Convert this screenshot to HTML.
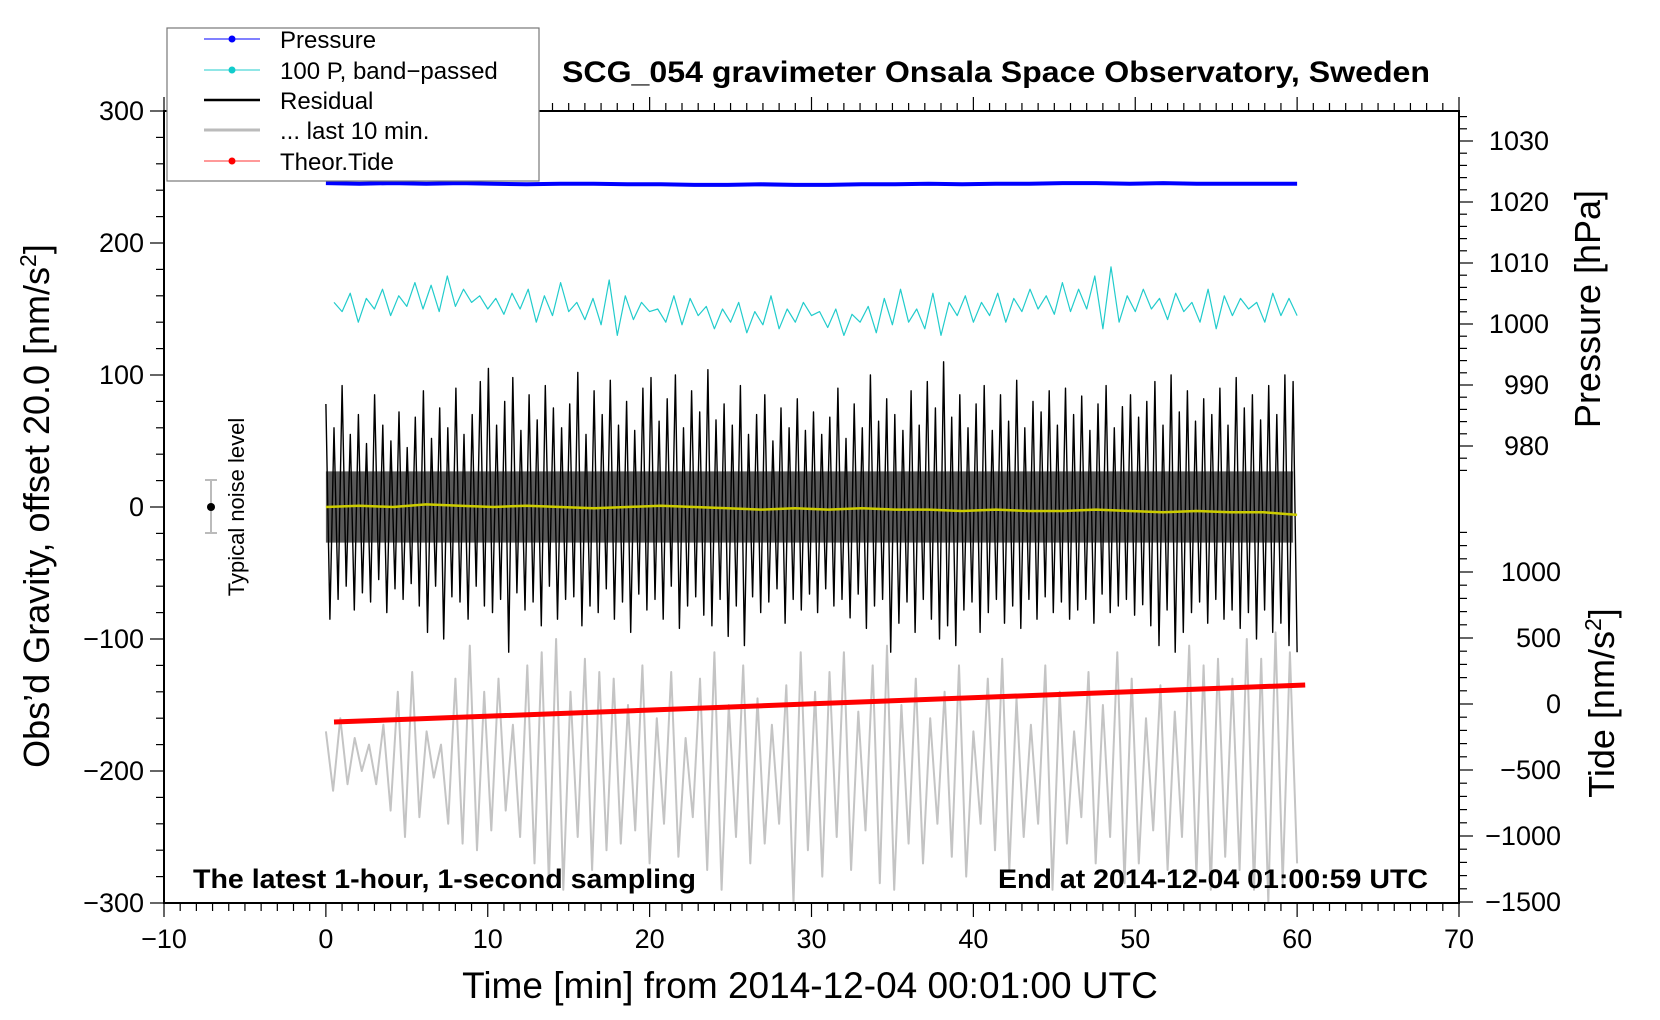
<!DOCTYPE html>
<html><head><meta charset="utf-8"><style>
html,body{margin:0;padding:0;background:#fff;}
svg{display:block;font-family:"Liberation Sans",sans-serif;}
</style></head><body>
<svg id="chart" width="1660" height="1020" viewBox="0 0 1660 1020" xmlns="http://www.w3.org/2000/svg">
<rect width="1660" height="1020" fill="#fff"/>
<g id="marks"></g>
<g id="axes"></g>
<text x="996" y="82" text-anchor="middle" font-size="30" font-weight="bold" textLength="868" lengthAdjust="spacingAndGlyphs">SCG_054 gravimeter Onsala Space Observatory, Sweden</text>
<text x="193" y="888" font-size="27" font-weight="bold" textLength="503" lengthAdjust="spacingAndGlyphs">The latest 1-hour, 1-second sampling</text>
<text x="998" y="888" font-size="27" font-weight="bold" textLength="430" lengthAdjust="spacingAndGlyphs">End at 2014-12-04 01:00:59 UTC</text>
<text x="810" y="998" text-anchor="middle" font-size="37">Time [min] from 2014-12-04 00:01:00 UTC</text>
<text transform="translate(49,506) rotate(-90)" text-anchor="middle" font-size="36">Obs’d Gravity, offset 20.0 [nm/s<tspan dy="-13" font-size="23">2</tspan><tspan dy="13">]</tspan></text>
<text transform="translate(1600,309) rotate(-90)" text-anchor="middle" font-size="36">Pressure [hPa]</text>
<text transform="translate(1614,703) rotate(-90)" text-anchor="middle" font-size="36">Tide [nm/s<tspan dy="-13" font-size="23">2</tspan><tspan dy="13">]</tspan></text>
<g>
<line x1="211" y1="480" x2="211" y2="533" stroke="#bbb" stroke-width="2"/>
<line x1="205" y1="480" x2="217" y2="480" stroke="#bbb" stroke-width="2"/>
<line x1="205" y1="533" x2="217" y2="533" stroke="#bbb" stroke-width="2"/>
<circle cx="211" cy="507" r="4" fill="#000"/>
<text transform="translate(244,507) rotate(-90)" text-anchor="middle" font-size="22">Typical noise level</text>
</g>
<g>
<rect x="167" y="28" width="372" height="153" fill="#fff" stroke="#777" stroke-width="1.2"/>
<g><line x1="204" y1="39" x2="260" y2="39" stroke="#00f" stroke-width="1"/><circle cx="232" cy="39" r="3.5" fill="#00f"/><text x="280" y="48" font-size="24">Pressure</text></g>
<g><line x1="204" y1="70" x2="260" y2="70" stroke="#2cc" stroke-width="1"/><circle cx="232" cy="70" r="3.5" fill="#1cc"/><text x="280" y="79" font-size="24">100 P, band−passed</text></g>
<g><line x1="204" y1="100" x2="260" y2="100" stroke="#000" stroke-width="2.5"/><text x="280" y="109" font-size="24">Residual</text></g>
<g><line x1="204" y1="130" x2="260" y2="130" stroke="#bbb" stroke-width="3"/><text x="280" y="139" font-size="24">... last 10 min.</text></g>
<g><line x1="204" y1="161" x2="260" y2="161" stroke="#f33" stroke-width="1"/><circle cx="232" cy="161" r="3.5" fill="#f00"/><text x="280" y="170" font-size="24">Theor.Tide</text></g>
</g>
</svg>
<script>
const residual = [78,-85,60,-70,92,-60,55,-78,70,-65,48,-72,85,-55,62,-80,50,-62,72,-70,
45,-58,68,-75,88,-95,52,-60,75,-100,60,-68,90,-72,55,-85,70,-60,95,-75,
105,-80,62,-70,80,-110,98,-65,58,-78,85,-72,66,-90,92,-60,75,-85,60,-70,
78,-68,102,-90,55,-75,88,-80,70,-62,96,-85,62,-72,80,-95,58,-66,90,-78,
98,-70,65,-85,82,-60,100,-92,60,-75,88,-68,72,-82,104,-90,66,-70,78,-98,
62,-75,92,-105,55,-68,70,-80,85,-72,50,-62,75,-88,60,-70,82,-78,58,-66,
72,-80,55,-62,68,-75,90,-70,52,-84,78,-66,60,-92,100,-75,65,-70,82,-110,
70,-88,58,-72,88,-95,62,-70,95,-85,75,-100,110,-90,68,-105,85,-78,60,-72,
78,-95,92,-80,58,-70,85,-88,65,-75,96,-92,60,-70,80,-85,72,-68,88,-80,
62,-72,90,-85,70,-78,84,-70,58,-88,78,-66,92,-80,60,-75,76,-70,85,-82,
68,-74,80,-90,95,-105,62,-78,100,-110,72,-95,88,-80,65,-72,82,-88,70,-70,
90,-85,62,-78,98,-92,75,-80,85,-100,66,-78,92,-95,70,-88,100,-105,95,-110];
const bandPassed = [155,148,162,140,158,150,165,145,160,152,170,150,168,148,175,152,165,155,160,150,
158,146,162,150,165,140,160,145,170,148,155,142,158,138,172,130,160,142,155,148,
150,140,160,138,158,145,152,135,150,140,155,132,148,138,160,135,150,140,155,145,
148,136,150,130,146,140,152,132,158,138,165,140,150,135,162,130,155,145,160,140,
155,145,162,140,158,148,165,150,160,146,170,148,165,150,175,135,182,140,160,148,
165,150,158,142,162,148,155,140,165,135,160,145,158,150,155,140,162,145,158,145];
const last10 = [-170,-215,-160,-210,-175,-200,-180,-210,-165,-230,-140,-250,-125,-235,-170,-205,-180,-240,-130,-255,
-105,-260,-140,-245,-130,-230,-165,-250,-120,-270,-110,-285,-100,-290,-140,-250,-115,-275,-125,-260,
-130,-255,-150,-245,-120,-270,-160,-240,-125,-265,-175,-235,-130,-275,-110,-290,-150,-250,-120,-270,
-145,-255,-165,-240,-135,-300,-110,-260,-140,-280,-125,-250,-110,-275,-155,-245,-120,-285,-105,-290,
-150,-255,-130,-270,-160,-240,-140,-265,-120,-280,-170,-240,-130,-260,-115,-275,-145,-250,-165,-240,
-120,-290,-140,-255,-170,-235,-125,-270,-150,-250,-110,-285,-130,-270,-160,-245,-135,-275,-155,-250,
-105,-280,-120,-290,-115,-265,-130,-275,-100,-290,-115,-300,-95,-285,-110,-270];
const runningMean = [0,1,0,2,1,0,1,0,-1,0,1,0,-1,-2,-1,-2,-1,-2,-2,-3,-2,-3,-3,-2,-3,-4,-3,-4,-4,-6];
const pressure = [1023.1,1023.0,1023.1,1023.0,1023.1,1023.0,1022.9,1023.0,1023.0,1022.9,1022.9,1022.8,1022.8,1022.9,1022.8,1022.8,1022.9,1022.9,1023.0,1022.9,1023.0,1023.0,1023.1,1023.1,1023.0,1023.1,1023.0,1023.0,1023.0,1023.0];
const tideTimes = [0.5,10.5,20.5,30.5,40.5,50.5,60.5];
const tide = [-136,-90,-44,4,50,97,144];
const xTicks = [-10,0,10,20,30,40,50,60,70];
const yTicks = [-300,-200,-100,0,100,200,300];
const pTicks = [980,990,1000,1010,1020,1030];
const tTicks = [-1500,-1000,-500,0,500,1000];

const NS='http://www.w3.org/2000/svg';
const L=164,R=1459,T=111,B=903;
const xs=t=>L+(t+10)*(R-L)/80;
const ys=v=>507-v*(B-T)/600;
const ps=p=>202-(p-1020)*6.1;
const ts=v=>704-v*66/500;
const marks=document.getElementById('marks'), axes=document.getElementById('axes');
function el(tag,attrs,parent){const e=document.createElementNS(NS,tag);for(const k in attrs)e.setAttribute(k,attrs[k]);parent.appendChild(e);return e;}
function line(arr,xf,yf,color,w,name){
  const n=arr.length;const pts=arr.map((v,i)=>xf(i,n).toFixed(1)+','+yf(v).toFixed(1)).join(' ');
  const p=el('polyline',{points:pts,fill:'none',stroke:color,'stroke-width':w,'stroke-linejoin':'round'},marks);
  
  
  return p;
}
const even=(a,b)=>(i,n)=>xs(a+(b-a)*i/(n-1));
line(pressure,even(0,60),ps,'#00f',4,'pressure-line');
line(bandPassed,even(0.5,60),ys,'#2cc',1.2,'bandpassed-line');
line(last10,even(0,60),ys,'#c4c4c4',2,'last-10-min-line');
(function(){
  const n=residual.length, fx=even(0,60);
  const top=[],bot=[];
  for(let i=0;i<n;i+=2){const hi=Math.min(45,residual[i]),lo=Math.max(-45,residual[i+1]);top.push(fx(i,n).toFixed(1)+','+ys(hi*0.6).toFixed(1));bot.unshift(fx(i,n).toFixed(1)+','+ys(lo*0.6).toFixed(1));}
  const c=el('polygon',{points:top.concat(bot).join(' '),fill:'#222','fill-opacity':'0.75'},marks);
  
  
})();
line(residual,even(0,60),ys,'#000',1.4,'residual-line');
line(runningMean,even(0,60),ys,'#cc0',2.5,'residual-mean-line');
const tp=el('polyline',{points:tide.map((v,i)=>xs(tideTimes[i]).toFixed(1)+','+ts(v).toFixed(1)).join(' '),fill:'none',stroke:'#f00','stroke-width':5},marks);



el('rect',{x:L,y:T,width:R-L,height:B-T,fill:'none',stroke:'#000','stroke-width':2},axes);
function tick(x1,y1,x2,y2,w){el('line',{x1,y1,x2,y2,stroke:'#000','stroke-width':w||1.2},axes);}
function label(x,y,txt,anchor,name){const t=el('text',{x,y,'font-size':27,'text-anchor':anchor},axes);t.textContent=txt;}
for(let t=-10;t<=70;t++){const x=xs(t),maj=t%10===0;tick(x,B,x,B+(maj?14:8));tick(x,T,x,T-(maj?14:8));}
xTicks.forEach(t=>label(xs(t),B+45,String(t).replace('-','−'),'middle','x-tick-label'));
for(let v=-300;v<=300;v+=20){const y=ys(v),maj=v%100===0;tick(L,y,L-(maj?14:8),y);}
yTicks.forEach(v=>label(L-20,ys(v)+9,String(v).replace('-','−'),'end','y-tick-label'));
for(let p=976;p<=1034;p+=2){const y=ps(p),maj=p%10===0;tick(R,y,R+(maj?14:8),y);}
pTicks.forEach(p=>label(R+90,ps(p)+9,String(p),'end','pressure-tick-label'));
for(let v=-1500;v<=1300;v+=100){const y=ts(v),maj=v%500===0;tick(R,y,R+(maj?14:8),y);}
tTicks.forEach(v=>label(R+102,ts(v)+9,String(v).replace('-','−'),'end','tide-tick-label'));
</script>
</body></html>
